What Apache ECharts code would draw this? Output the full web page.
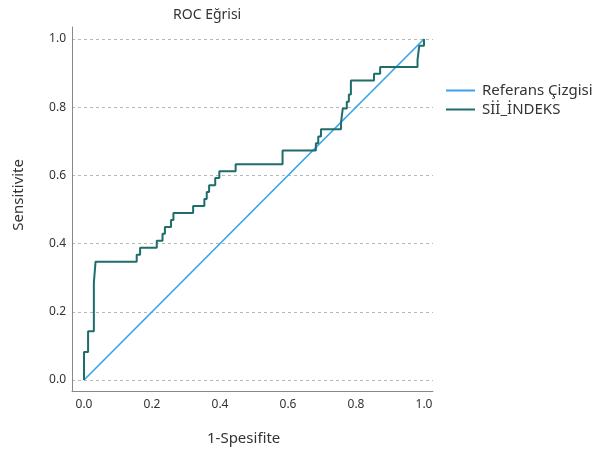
<!DOCTYPE html>
<html>
<head>
<meta charset="utf-8">
<script src="https://cdn.jsdelivr.net/npm/echarts@6/dist/echarts.min.js"></script>
<style>html,body{margin:0;padding:0;background:#fff}#c{width:602px;height:457px}</style>
</head>
<body>
<div id="c"></div>
<script>
var titleText = 'ROC Eğrisi';
var xName = '1-Spesifite';
var yName = 'Sensitivite';
var seriesNames = ['Referans Çizgisi', 'Sİİ_İNDEKS'];
var tickValues = [0, 0.2, 0.4, 0.6, 0.8, 1.0];
var refX = [0, 1];
var refY = [0, 1];
var rocFpr = [0, 0, 0.012, 0.029, 0.034, 0.155, 0.165, 0.214, 0.231, 0.238, 0.256, 0.263, 0.321, 0.354, 0.361, 0.368, 0.386, 0.398, 0.446, 0.584, 0.682, 0.689, 0.697, 0.756, 0.761, 0.773, 0.779, 0.785, 0.853, 0.871, 0.981, 0.986, 1.0];
var rocTpr = [0, 0.082, 0.143, 0.286, 0.347, 0.367, 0.388, 0.408, 0.429, 0.449, 0.469, 0.490, 0.510, 0.531, 0.551, 0.571, 0.592, 0.612, 0.633, 0.673, 0.694, 0.714, 0.735, 0.755, 0.796, 0.816, 0.837, 0.878, 0.898, 0.918, 0.939, 0.980, 1.0];

function pairs(a, b) { return a.map(function (v, i) { return [v, b[i]]; }); }

var FONT = '"Noto Sans", "Open Sans", sans-serif';
var chart = echarts.init(document.getElementById('c'), null, {renderer: 'canvas'});
chart.setOption({
  animation: false,
  backgroundColor: '#ffffff',
  textStyle: {fontFamily: FONT},
  grid: {left: 72, top: 27, width: 361, height: 364},
  xAxis: {
    type: 'value', min: -0.0353, max: 1.0265,
    axisLine: {show: true, onZero: false, lineStyle: {color: '#888888', width: 1}},
    axisTick: {show: false, customValues: tickValues},
    axisLabel: {customValues: tickValues, formatter: function (v) { return v.toFixed(1); }, color: '#333333', fontSize: 12, margin: 8, fontFamily: FONT},
    splitLine: {show: false}
  },
  yAxis: {
    type: 'value', min: -0.0323, max: 1.0352,
    axisLine: {show: true, onZero: false, lineStyle: {color: '#888888', width: 1}},
    axisTick: {show: false, customValues: tickValues},
    axisLabel: {customValues: tickValues, formatter: function (v) { return v.toFixed(1); }, color: '#333333', fontSize: 12, margin: 6, fontFamily: FONT},
    splitLine: {show: true, lineStyle: {color: '#b8b8b8', type: [3, 3], width: 1}}
  },
  legend: {
    orient: 'vertical', left: 441, top: 78, itemWidth: 29, itemHeight: 2, itemGap: 4, icon: 'rect',
    textStyle: {fontSize: 15, color: '#333333', fontFamily: FONT, padding: [0, 0, 0, 2]},
    data: seriesNames
  },
  graphic: [
    {type: 'text', left: 173, top: 8, style: {text: titleText, font: '14px ' + FONT, fill: '#333333'}},
    {type: 'text', left: 207, top: 431, style: {text: xName, font: '15px ' + FONT, fill: '#333333'}},
    {type: 'text', left: 11, top: 159, rotation: Math.PI / 2, style: {text: yName, font: '15px ' + FONT, fill: '#333333'}}
  ],
  series: [
    {name: seriesNames[0], type: 'line', data: pairs(refX, refY), symbol: 'none', lineStyle: {color: '#3ba3e9', width: 1.7}, itemStyle: {color: '#3ba3e9'}, z: 2},
    {name: seriesNames[1], type: 'line', step: 'end', data: pairs(rocFpr, rocTpr), symbol: 'none', lineStyle: {color: '#1f6d6b', width: 2}, itemStyle: {color: '#1f6d6b'}, z: 3}
  ]
});
</script>
</body>
</html>
